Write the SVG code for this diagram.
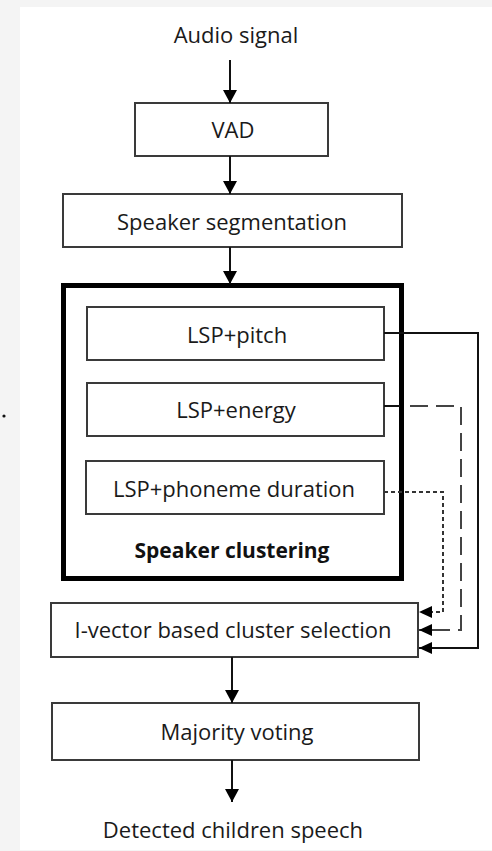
<svg xmlns="http://www.w3.org/2000/svg" width="492" height="851" viewBox="0 0 492 851">
<style>
.bg{fill:#f4f4f4}
.box{fill:#fff;stroke:#3a3a3a;stroke-width:2}
.big{fill:none;stroke:#000;stroke-width:5}
.t{font-family:"Open Sans","Liberation Sans",sans-serif;font-size:22px;fill:#1a1a1a;text-anchor:middle}
.b{font-weight:bold;fill:#111;font-size:21px}
.c{fill:none;stroke:#111;stroke-width:2}
.d1{stroke:#444;stroke-dasharray:18,8}
.d2{stroke:#333;stroke-dasharray:4,3}
</style>
<defs>
<marker id="ah" markerUnits="userSpaceOnUse" markerWidth="13" markerHeight="14" refX="13" refY="7" orient="auto">
<path d="M0,0 L13,7 L0,14 Z" fill="#000"/>
</marker>
<marker id="ahs" markerUnits="userSpaceOnUse" markerWidth="13" markerHeight="12" refX="13" refY="6" orient="auto">
<path d="M0,0 L13,6 L0,12 Z" fill="#000"/>
</marker>
</defs>
<rect class="bg" x="0" y="0" width="492" height="851"/>
<rect x="20" y="7" width="472" height="843" fill="#fff"/>
<circle cx="4" cy="416" r="1.6" fill="#111"/>

<g id="audio-signal"><text class="t" x="236" y="43">Audio signal</text></g>
<g id="vad"><rect class="box" x="135" y="103" width="193" height="53"/><text class="t" x="233" y="138">VAD</text></g>
<g id="speaker-segmentation"><rect class="box" x="63" y="194" width="339" height="53"/><text class="t" x="232" y="230">Speaker segmentation</text></g>
<g id="speaker-clustering"><rect class="big" x="63.5" y="285.5" width="338" height="293"/><text class="t b" x="232" y="558">Speaker clustering</text></g>
<g id="lsp-pitch"><rect class="box" x="87" y="307" width="297" height="53"/><text class="t" x="237" y="343">LSP+pitch</text></g>
<g id="lsp-energy"><rect class="box" x="87" y="383" width="297" height="53"/><text class="t" x="236" y="418">LSP+energy</text></g>
<g id="lsp-phoneme"><rect class="box" x="86" y="461" width="298" height="53"/><text class="t" x="234" y="497">LSP+phoneme duration</text></g>
<g id="ivector"><rect class="box" x="51" y="603" width="367" height="54"/><text class="t" x="233" y="638">I-vector based cluster selection</text></g>
<g id="majority-voting"><rect class="box" x="52" y="703" width="367" height="57"/><text class="t" x="237" y="740">Majority voting</text></g>
<g id="detected"><text class="t" x="233" y="838">Detected children speech</text></g>

<g id="connectors">
<line class="c" x1="230" y1="60" x2="230" y2="103" marker-end="url(#ah)"/>
<line class="c" x1="230" y1="156" x2="230" y2="194" marker-end="url(#ah)"/>
<line class="c" x1="230" y1="247" x2="230" y2="284" marker-end="url(#ah)"/>
<line class="c" x1="232" y1="657" x2="232" y2="703" marker-end="url(#ah)"/>
<line class="c" x1="232" y1="760" x2="232" y2="802" marker-end="url(#ah)"/>
<polyline class="c" points="384,333 478,333 478,648 419,648" marker-end="url(#ahs)"/>
<polyline class="c" points="384,406 400,406" />
<polyline class="c d1" points="410,406 461,406 461,630 419,630" marker-end="url(#ahs)"/>
<polyline class="c d2" points="384,492 443,492 443,612 419,612" marker-end="url(#ahs)"/>
</g>
</svg>
